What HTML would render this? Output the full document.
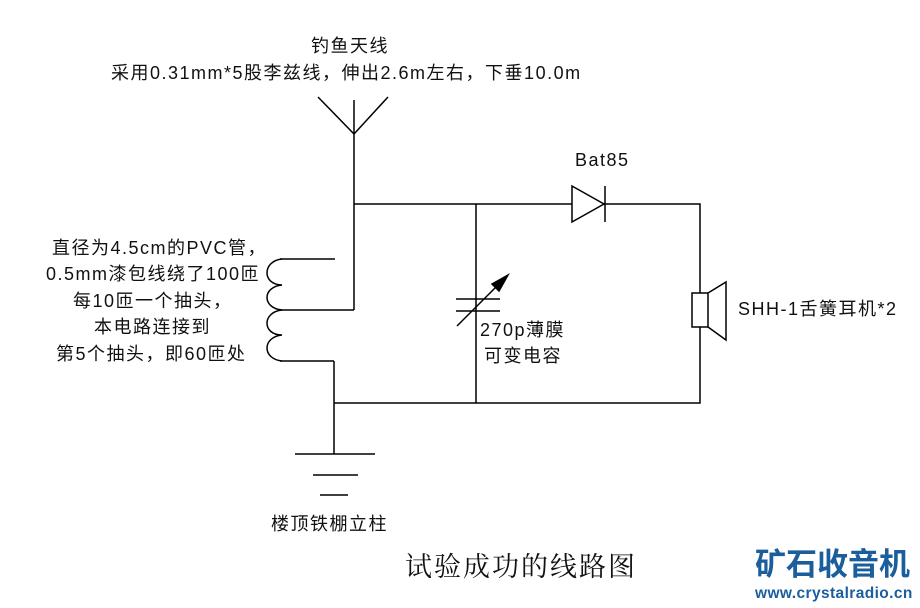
<!DOCTYPE html>
<html><head><meta charset="utf-8"><style>
body{margin:0;width:920px;height:608px;background:#fff;overflow:hidden;position:relative;font-family:"Liberation Sans","Noto Sans CJK SC",sans-serif;color:#111}
.t{position:absolute;font-size:18px;letter-spacing:1.5px;white-space:nowrap;line-height:22px}
</style></head><body>
<svg width="920" height="608" style="position:absolute;left:0;top:0" fill="none" stroke="#000" stroke-width="1.5">
<path d="M318,97 L354,134 L388,97 M354,100 L354,310 M354,204 L700,204 L700,403 L334,403 M476,204 L476,403 M334,361 L334,454"/>
<path d="M335,259 L280,259 M354,310 L280,310 M334,361 L280,361"/>
<path d="M282,259 C262,261 262,285 282,285 C262,287 262,308 282,310 C262,312 262,335 282,335 C262,337 262,359 282,361"/>
<path d="M295,454 L375,454 M313,475 L358,475 M320,495 L348,495"/>
<path d="M572,186 L572,222 L604,204 Z M605,186 L605,222" fill="#fff"/>
<path d="M456,299 L500,299 M456,311 L500,311 M457,326 L500,283"/>
<path d="M508,275 L492,284 L499,291 Z" fill="#000"/>
<rect x="692" y="293" width="16" height="34" fill="#fff"/>
<path d="M708,293 L726,282 L726,340 L708,327"/>
</svg>
<div class="t" style="left:311px;top:35px">钓鱼天线</div>
<div class="t" style="left:111px;top:62px">采用0.31mm*5股李兹线，伸出2.6m左右，下垂10.0m</div>
<div class="t" style="left:575px;top:149px">Bat85</div>
<div class="t" style="left:52px;top:237px">直径为4.5cm的PVC管，</div>
<div class="t" style="left:46px;top:263px">0.5mm漆包线绕了100匝</div>
<div class="t" style="left:73px;top:290px">每10匝一个抽头，</div>
<div class="t" style="left:94px;top:316px">本电路连接到</div>
<div class="t" style="left:56px;top:343px">第5个抽头，即60匝处</div>
<div class="t" style="left:480px;top:319px">270p薄膜</div>
<div class="t" style="left:484px;top:345px">可变电容</div>
<div class="t" style="left:738px;top:298px">SHH-1舌簧耳机*2</div>
<div class="t" style="left:271px;top:513px">楼顶铁棚立柱</div>
<div class="t" style="left:405px;top:550px;font-size:27px;letter-spacing:2px;line-height:34px;font-family:'Liberation Serif','Noto Serif CJK SC',serif">试验成功的线路图</div>
<div class="t" style="left:755px;top:547px;font-size:31px;letter-spacing:0;line-height:36px;font-weight:bold;color:#1b5e9c">矿石收音机</div>
<div class="t" style="left:755px;top:585px;font-size:15.5px;letter-spacing:0.4px;line-height:18px;font-weight:bold;color:#1b5e9c">www.crystalradio.cn</div>
</body></html>
